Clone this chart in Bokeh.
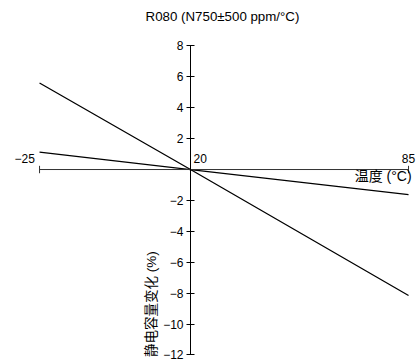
from bokeh.plotting import figure
from bokeh.models import LinearAxis, FixedTicker, Range1d
from bokeh.core.properties import value
from bokeh.embed import file_html
from bokeh.resources import INLINE

title_text = "R080 (N750±500 ppm/°C)"
x_label = "温度 (°C)"
y_label = "静电容量变化 (%)"
temps = [-25, 20, 85]
upper_limit = [5.6, 0.0, -8.15]   # N1250
lower_limit = [1.12, 0.0, -1.62]  # N250
x_ticks = [-25, 20, 85]
y_ticks = [-12, -10, -8, -6, -4, -2, 2, 4, 6, 8]

FONT = "'Liberation Sans', Arial, sans-serif"
CJK = "'Liberation Sans', 'Noto Sans CJK SC', sans-serif"

p = figure(width=419, height=362, output_backend="svg", toolbar_location=None,
           x_axis_location=None, y_axis_location=None,
           x_range=Range1d(-36.64, 88.27), y_range=Range1d(-12.49, 10.94),
           min_border=0, outline_line_color=None)
p.grid.visible = False
p.background_fill_color = "white"
p.border_fill_color = "white"

for ys in (upper_limit, lower_limit):
    p.line(temps, ys, line_color="black", line_width=1.3)

# x axis (horizontal line through y=0 with end ticks)
p.segment(x0=[x_ticks[0]], y0=[0], x1=[x_ticks[-1]], y1=[0], line_color="#333333", line_width=1)
p.segment(x0=[x_ticks[0], x_ticks[-1]], y0=[-0.24, -0.24], x1=[x_ticks[0], x_ticks[-1]],
          y1=[0.24, 0.24], line_color="#333333", line_width=1)

ya = LinearAxis(fixed_location=20, ticker=FixedTicker(ticks=y_ticks),
                bounds=(y_ticks[0], y_ticks[-1]), major_tick_in=4, major_tick_out=4,
                minor_tick_line_color=None, major_label_standoff=3,
                major_label_text_font=FONT, major_label_text_font_size="12px",
                major_label_text_color="black",
                axis_line_color="black", major_tick_line_color="black")
ya.major_label_overrides = {t: ("\u2212" + str(-t) if t < 0 else str(t)) for t in y_ticks}
p.add_layout(ya, "left")

def lab(v):
    return "\u2212" + str(-v) if v < 0 else str(v)

p.text(x=[-26.4], y=[0.71], text=[lab(x_ticks[0])], text_align="right",
       text_baseline="middle", text_font=value(FONT), text_font_size="12px", text_color="black")
p.text(x=[20.9], y=[0.71], text=[lab(x_ticks[1])], text_align="left",
       text_baseline="middle", text_font=value(FONT), text_font_size="12px", text_color="black")
p.text(x=[x_ticks[2]], y=[0.71], text=[lab(x_ticks[2])], text_align="center",
       text_baseline="middle", text_font=value(FONT), text_font_size="12px", text_color="black")

# axis labels
p.text(x=[85.9], y=[-0.42], text=[x_label], text_align="right", text_baseline="middle",
       text_font=value(CJK), text_font_size="14px", text_color="black")
p.text(x=[8.4], y=[-12.14], text=[y_label], text_align="left", text_baseline="middle",
       angle=1.5708, text_font=value(CJK), text_font_size="13.5px", text_color="black")

# title
p.text(x=[29.54], y=[9.9], text=[title_text], text_align="center", text_baseline="middle",
       text_font=value(FONT), text_font_size="13.3px", text_color="black")

open("out.html", "w").write(file_html(p, INLINE))
